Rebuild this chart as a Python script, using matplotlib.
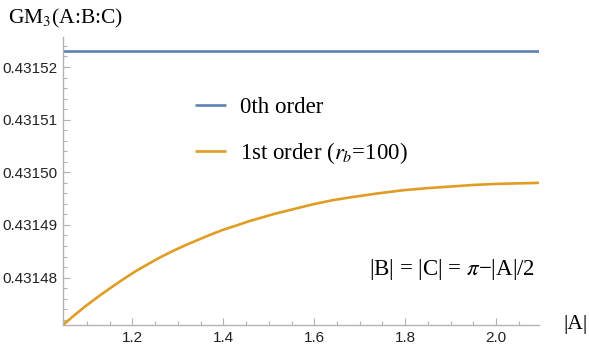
import numpy as np
import matplotlib
matplotlib.use("Agg")
import matplotlib.pyplot as plt
from matplotlib.ticker import MultipleLocator, FixedLocator

plt.rcParams['mathtext.fontset'] = 'stix'

# ---- data ----
x_zeroth = [np.pi / 3, 2 * np.pi / 3]
y_zeroth = [0.4315231, 0.4315231]

x_first = [1.0472, 1.07, 1.0956, 1.125, 1.151, 1.18, 1.2067, 1.235, 1.262, 1.29,
           1.3178, 1.345, 1.373, 1.40, 1.4289, 1.456, 1.484, 1.512, 1.54, 1.568,
           1.596, 1.64, 1.684, 1.74, 1.796, 1.85, 1.90, 1.95, 2.00, 2.05, 2.0944]
y_first = [0.4314710, 0.4314727, 0.4314745, 0.4314764, 0.4314780, 0.4314797,
           0.4314812, 0.4314826, 0.4314839, 0.4314851, 0.4314862, 0.4314872,
           0.4314882, 0.4314891, 0.4314899, 0.4314907, 0.4314914, 0.4314921,
           0.4314927, 0.4314933, 0.4314939, 0.4314947, 0.4314953, 0.4314960,
           0.4314966, 0.4314970, 0.4314973, 0.4314976, 0.4314978, 0.4314979,
           0.4314980]

labels = ["0th order", "1st order ($r_b$=100)"]
x_ticks = [1.2, 1.4, 1.6, 1.8, 2.0]
y_ticks = [0.43148, 0.43149, 0.43150, 0.43151, 0.43152]

blue = "#5E81B5"
orange = "#E19C24"
serif = "Liberation Serif"
sans = "Liberation Sans"
fs = 16.5

fig = plt.figure(figsize=(5.89, 3.53), dpi=100)
ax = fig.add_axes([63 / 589, 1 - 325 / 353, (539 - 63) / 589, (325 - 37) / 353])

ax.plot(x_zeroth, y_zeroth, color=blue, lw=1.9, label=labels[0], solid_capstyle='butt')
ax.plot(x_first, y_first, color=orange, lw=1.9, label=labels[1], solid_capstyle='butt',
        solid_joinstyle='round')

ax.set_xlim(np.pi / 3, 2 * np.pi / 3)
ax.set_ylim(0.431471, 0.4315257)

for s in ['top', 'right']:
    ax.spines[s].set_visible(False)
for s in ['left', 'bottom']:
    ax.spines[s].set_color('#b3b3b3')
    ax.spines[s].set_linewidth(1.0)

ax.xaxis.set_major_locator(FixedLocator(x_ticks))
ax.yaxis.set_major_locator(FixedLocator(y_ticks))
ax.xaxis.set_minor_locator(MultipleLocator(0.05))
ax.yaxis.set_minor_locator(MultipleLocator(0.000002))
ax.set_xticklabels([f"{v:.1f}" for v in x_ticks])
ax.set_yticklabels([f"{v:.5f}" for v in y_ticks])
ax.tick_params(which='both', direction='in', color='#b3b3b3', width=0.8)
ax.tick_params(which='major', length=5, labelsize=11, labelcolor='#222222', pad=4)
ax.tick_params(which='minor', length=3)
for lab in ax.get_xticklabels() + ax.get_yticklabels():
    lab.set_fontfamily(sans)

fig.text(8 / 589, 1 - 18 / 353, "GM$_3$(A:B:C)", family=serif, fontsize=15.5,
         va='center', ha='left')
fig.text(563 / 589, 1 - 325 / 353, "|A|", family=serif, fontsize=15.5,
         va='center', ha='left')
fig.text(535 / 589, 1 - 270 / 353, "|B| = |C| = $\\pi$\u2212|A|/2", family=serif,
         fontsize=fs, va='center', ha='right')

leg = ax.legend(loc='upper left', bbox_to_anchor=(195 / 589, 1 - 97 / 353),
                bbox_transform=fig.transFigure, frameon=False,
                prop={'family': serif, 'size': fs}, handlelength=1.35,
                handletextpad=0.6, labelspacing=0.95, borderpad=0, borderaxespad=0)

fig.savefig("out.png", dpi=100)
